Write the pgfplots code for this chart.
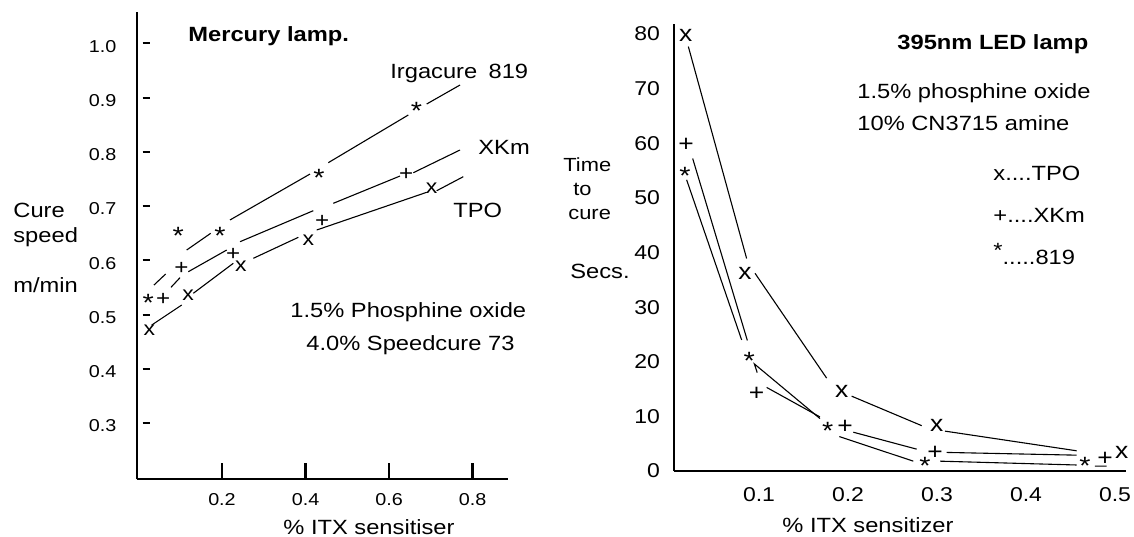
\documentclass[border=0pt]{standalone}
\usepackage{fontspec}
\setmainfont{Liberation Sans}[FakeStretch=1.15]
\usepackage{pgfplots}
\pgfplotsset{compat=1.18}

\newcommand\txt{\fontsize{10.3}{12}\selectfont}
% marks: glyph centred on the data point
\newcommand\mkx[1]{\fontsize{#1}{12}\selectfont\raisebox{-0.26em}[0pt][0pt]{x}}
\newcommand\mkp[1]{\fontsize{#1}{12}\selectfont\raisebox{-0.35em}[0pt][0pt]{+}}
\newcommand\mks[1]{\fontsize{#1}{12}\selectfont\raisebox{-0.57em}[0pt][0pt]{*}}

\begin{document}
\begin{tikzpicture}
\useasboundingbox (0,0) rectangle (567pt,268pt);

% ---------- left: mercury lamp ----------
\begin{axis}[
    at={(68.35pt,28.35pt)}, anchor=south west,
    scale only axis, width=185.8pt, height=233.65pt,
    xmin=-0.0043, xmax=0.8857, ymin=0.1962, ymax=1.0577,
    axis lines*=left, axis line style={line width=1pt},
    clip=false,
    xtick={0.2,0.4,0.6,0.8}, xticklabels={0.2,0.4,0.6,0.8},
    ytick={0.3,0.4,0.5,0.6,0.7,0.8,0.9,1.0},
    yticklabels={0.3,0.4,0.5,0.6,0.7,0.8,0.9,1.0},
    minor ytick={0.3,0.4,0.5,0.6,0.7,0.8,0.9,1.0},
    tick align=inside, major tick length=8pt, minor tick length=3.5pt,
    major x tick style={line width=1.2pt, black},
    major y tick style={draw=none},
    minor y tick style={line width=1pt, xshift=3pt, black},
    xticklabel style={font=\fontsize{8.6}{10}\selectfont, yshift=-3.6pt},
    yticklabel style={font=\fontsize{8.6}{10}\selectfont, xshift=-6.6pt, yshift=-1.5pt},
]
% Irgacure 819
\addplot[black, line width=0.55pt, unbounded coords=jump] coordinates {
 (0.0371,0.5544) (0.0651,0.5747) (nan,nan)
 (0.1154,0.6189) (0.1729,0.6497) (nan,nan)
 (0.2192,0.6743) (0.4108,0.7590) (nan,nan)
 (0.4546,0.7799) (0.6462,0.8678) (nan,nan)
 (0.6903,0.8881) (0.7701,0.9231)
};
% XKm
\addplot[black, line width=0.55pt, unbounded coords=jump] coordinates {
 (0.0778,0.5501) (0.0994,0.5679) (nan,nan)
 (0.1193,0.5789) (0.2113,0.6189) (nan,nan)
 (0.2431,0.6342) (0.4187,0.6914) (nan,nan)
 (0.4666,0.7050) (0.6263,0.7553) (nan,nan)
 (0.6582,0.7614) (0.7701,0.8033)
};
% TPO
\addplot[black, line width=0.55pt, unbounded coords=jump] coordinates {
 (0.0316,0.4806) (0.1035,0.5175) (nan,nan)
 (0.1313,0.5391) (0.2271,0.5944) (nan,nan)
 (0.2750,0.6036) (0.3828,0.6423) (nan,nan)
 (0.4268,0.6558) (0.6903,0.7253) (nan,nan)
 (0.7142,0.7282) (0.7780,0.7541)
};
\addplot[only marks, mark=text, text mark={\mks{12.5}}] coordinates {
 (0.023,0.532) (0.095,0.656) (0.195,0.656) (0.432,0.763) (0.666,0.886)
};
\addplot[only marks, mark=text, text mark={\mkp{10.5}}] coordinates {
 (0.059,0.530) (0.103,0.588) (0.227,0.613) (0.440,0.674) (0.641,0.760)
};
\addplot[only marks, mark=text, text mark={\mkx{10}}] coordinates {
 (0.026,0.470) (0.119,0.536) (0.245,0.588) (0.407,0.637) (0.702,0.733)
};
\end{axis}

% ---------- right: 395nm LED lamp ----------
\begin{axis}[
    at={(337pt,32.5pt)}, anchor=south west,
    scale only axis, width=226pt, height=223.5pt,
    xmin=0.0045, xmax=0.5124, ymin=0, ymax=81.83,
    axis lines*=left, axis line style={line width=1pt},
    clip=false,
    xtick={0.1,0.2,0.3,0.4,0.5}, xticklabels={0.1,0.2,0.3,0.4,0.5},
    ytick={0,10,20,30,40,50,60,70,80},
    yticklabels={0,10,20,30,40,50,60,70,80},
    tick style={draw=none}, major tick length=0pt,
    xticklabel style={font=\fontsize{10}{12}\selectfont, yshift=-4.5pt},
    yticklabel style={font=\fontsize{10}{12}\selectfont, xshift=-3.5pt},
]
% TPO
\addplot[black, line width=0.55pt, unbounded coords=jump] coordinates {
 (0.0206,77.7) (0.0861,38.9) (nan,nan)
 (0.0955,36.2) (0.1760,17.0) (nan,nan)
 (0.2041,13.7) (0.2828,8.3) (nan,nan)
 (0.3090,7.3) (0.4569,3.7)
};
% XKm
\addplot[black, line width=0.55pt, unbounded coords=jump] coordinates {
 (0.0255,57.2) (0.0869,23.9) (nan,nan)
 (0.1086,15.3) (0.1685,9.9) (nan,nan)
 (0.2060,7.1) (0.2772,4.0) (nan,nan)
 (0.3109,3.4) (0.4569,2.9)
};
% 819
\addplot[black, line width=0.55pt, unbounded coords=jump] coordinates {
 (0.0187,53.3) (0.0805,24.0) (nan,nan)
 (0.0980,18.0) (0.0948,19.6) (0.1685,9.6) (nan,nan)
 (0.1903,6.3) (0.2734,1.8) (nan,nan)
 (0.3034,1.8) (0.4569,1.1) (nan,nan)
 (0.4775,0.9) (0.4907,0.9)
};
\addplot[only marks, mark=text, text mark={\mkx{11.5}}] coordinates {
 (0.0176,79.8) (0.0843,36.1) (0.1929,14.5) (0.2996,8.3) (0.5075,3.4)
};
\addplot[only marks, mark=text, text mark={\mkp{11.5}}] coordinates {
 (0.018,60.0) (0.0974,14.4) (0.1966,8.3) (0.2978,3.5) (0.4888,2.4)
};
\addplot[only marks, mark=text, text mark={\mks{12.5}}] coordinates {
 (0.0169,55.0) (0.0891,21.2) (0.1772,8.3) (0.2865,2.0) (0.4663,2.0)
};
\end{axis}

% ---------- text (pixel positions of the reference, y downwards) ----------
\begin{scope}[x=0.5pt, y=-0.5pt, yshift=268pt, every node/.style={anchor=base west, inner sep=0pt, font=\txt}]
\node at (188,42) {\bfseries Mercury lamp.};
\node at (390,79) {Irgacure\hspace{0.55em}819};
\node at (478,155) {XKm};
\node at (453,218) {TPO};
\node at (290,317) {1.5\% Phosphine oxide};
\node at (306,350) {4.0\% Speedcure 73};
\node at (13,218) {Cure};
\node at (13,243) {speed};
\node at (13,293) {m/min};
\node at (283,534) {\% ITX sensitiser};

\node at (897,50) {\bfseries 395nm LED lamp};
\node at (857,99) {1.5\% phosphine oxide};
\node at (857,131) {10\% CN3715 amine};
\node at (993,181) {x....TPO};
\node at (993,222) {+....XKm};
\node at (993,265) {\raisebox{3.5pt}{*}.....819};
\node[font=\fontsize{9.5}{11}\selectfont] at (563,172) {Time};
\node[font=\fontsize{9.5}{11}\selectfont] at (573,196) {to};
\node[font=\fontsize{9.5}{11}\selectfont] at (568,220) {cure};
\node at (570,279) {Secs.};
\node at (782,532) {\% ITX sensitizer};
\end{scope}
\end{tikzpicture}
\end{document}
